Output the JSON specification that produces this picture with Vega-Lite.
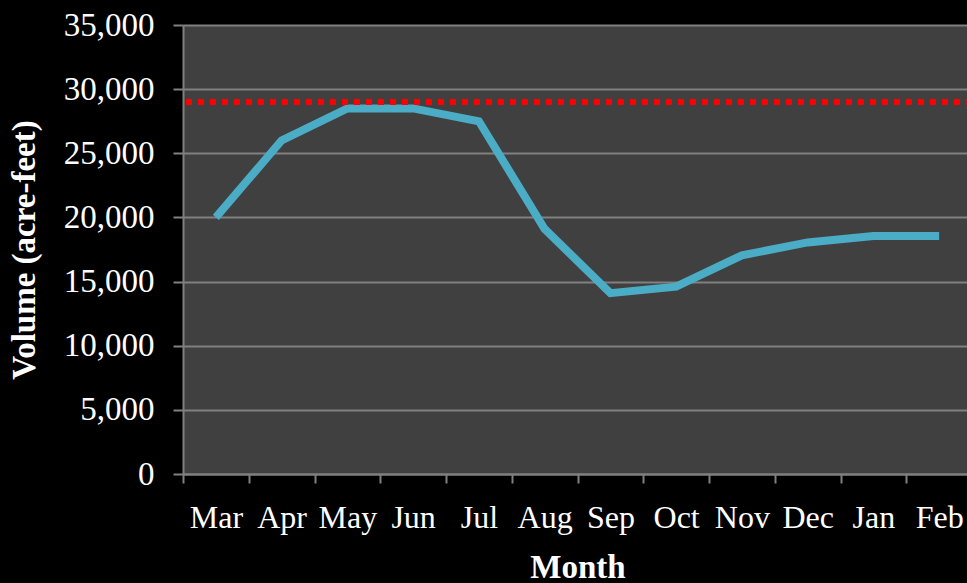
{
  "$schema": "https://vega.github.io/schema/vega-lite/v6.json",
  "autosize": "none",
  "width": 789,
  "height": 449,
  "padding": {"left": 183, "top": 25, "right": 0, "bottom": 109},
  "background": "#000000",
  "config": {
    "view": {"fill": "#404040", "stroke": null},
    "font": "Liberation Serif"
  },
  "datasets": {
    "volume": [
      {"month": "Mar", "volume": 20000},
      {"month": "Apr", "volume": 26000},
      {"month": "May", "volume": 28500},
      {"month": "Jun", "volume": 28500},
      {"month": "Jul", "volume": 27500},
      {"month": "Aug", "volume": 19100},
      {"month": "Sep", "volume": 14100},
      {"month": "Oct", "volume": 14600},
      {"month": "Nov", "volume": 17050},
      {"month": "Dec", "volume": 18050},
      {"month": "Jan", "volume": 18550},
      {"month": "Feb", "volume": 18550}
    ],
    "limit": [{"limit": 29000}]
  },
  "layer": [
    {
      "data": {"name": "volume"},
      "mark": {"type": "line", "color": "#4BACC6", "strokeWidth": 8, "strokeJoin": "miter"},
      "encoding": {
        "x": {
          "field": "month", "type": "nominal", "sort": null, "bandPosition": 0.5,
          "scale": {"type": "band", "paddingInner": 0, "paddingOuter": 0},
          "axis": {
            "title": "Month", "titleFont": "Liberation Serif", "titleFontSize": 33, "titleFontWeight": "bold",
            "titleColor": "#ffffff", "titlePadding": 18,
            "labelFont": "Liberation Serif", "labelFontSize": 32, "labelColor": "#ffffff", "labelPadding": 19,
            "labelAngle": 0, "labelFontWeight": "normal",
            "tickBand": "extent", "tickColor": "#808080", "tickSize": 9, "tickWidth": 2,
            "domainColor": "#808080", "domainWidth": 2, "grid": false
          }
        },
        "y": {
          "field": "volume", "type": "quantitative",
          "scale": {"domain": [0, 35000], "nice": false},
          "axis": {
            "title": "Volume (acre-feet)", "titleFont": "Liberation Serif", "titleFontSize": 33, "titleFontWeight": "bold",
            "titleColor": "#ffffff", "titlePadding": 22,
            "values": [0, 5000, 10000, 15000, 20000, 25000, 30000, 35000],
            "format": ",.0f", "labelFont": "Liberation Serif", "labelFontSize": 33, "labelColor": "#ffffff", "labelPadding": 19,
            "tickColor": "#808080", "tickSize": 10, "tickWidth": 2,
            "domainColor": "#808080", "domainWidth": 2,
            "grid": true, "gridColor": "#808080", "gridWidth": 2
          }
        }
      }
    },
    {
      "data": {"name": "limit"},
      "mark": {"type": "rule", "color": "#FF0000", "strokeWidth": 6, "strokeDash": [6, 6]},
      "encoding": {
        "y": {"field": "limit", "type": "quantitative"}
      }
    }
  ]
}
